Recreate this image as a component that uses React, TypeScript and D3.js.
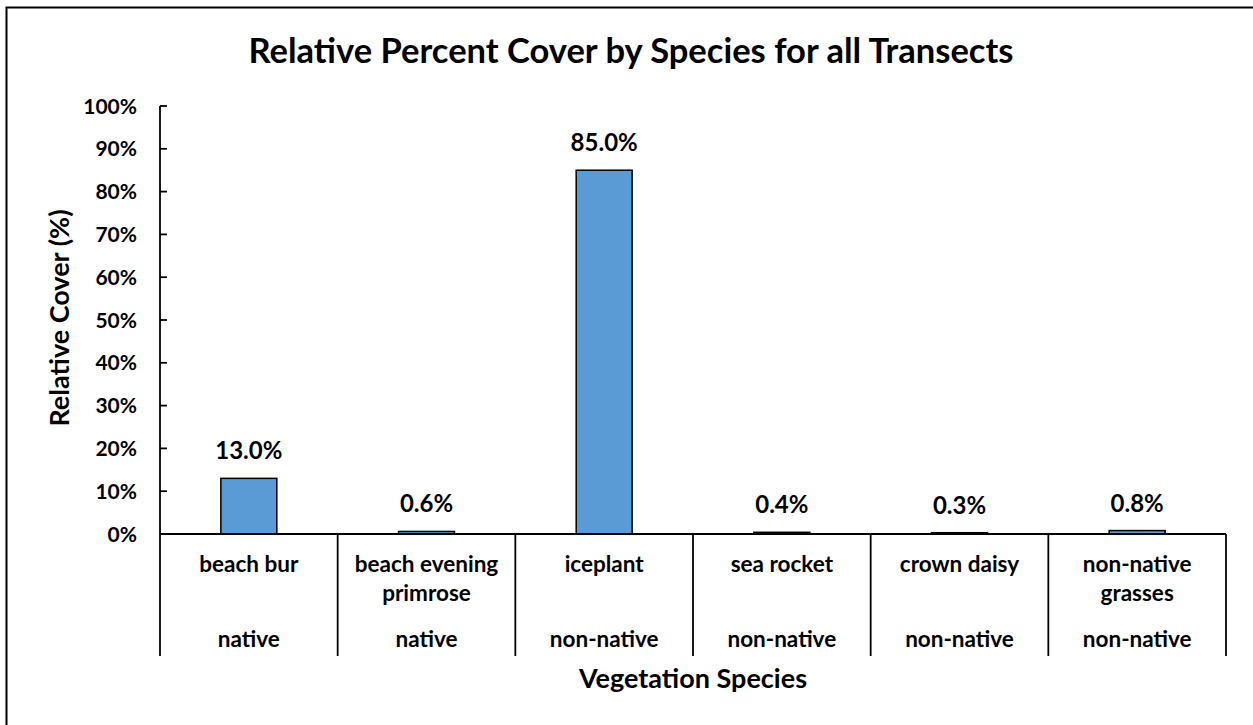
import React from "react";
import * as d3 from "d3";

// Species shown on the category axis (one entry per line of the label)
const speciesLines: string[][] = [
  ["beach bur"],
  ["beach evening", "primrose"],
  ["iceplant"],
  ["sea rocket"],
  ["crown daisy"],
  ["non-native", "grasses"],
];
// Second-level grouping under each species
const origin: string[] = ["native", "native", "non-native", "non-native", "non-native", "non-native"];
// Relative percent cover for each species
const cover: number[] = [13.0, 0.6, 85.0, 0.4, 0.3, 0.8];
// Value axis ticks
const yTicks: number[] = [0, 10, 20, 30, 40, 50, 60, 70, 80, 90, 100];

const W = 1253;
const H = 725;
const FONT = "Lato, 'Noto Sans', sans-serif";

export default function App() {
  const keys = speciesLines.map((l) => l.join(" "));
  const x = d3.scaleBand<string>().domain(keys).range([160, 1226]).padding(0);
  const y = d3.scaleLinear().domain([0, 100]).range([534, 106]);
  const barW = x.bandwidth() * 0.315;
  const axisBottom = 656;

  return (
    <svg
      width={W}
      height={H}
      style={{ position: "absolute", left: 0, top: 0, background: "#fff" }}
      fontFamily={FONT}
      fontWeight={700}
    >
      <rect x={0} y={0} width={W} height={H} fill="#fff" />
      {/* chart frame */}
      <rect x={6.5} y={7.5} width={W + 50} height={H + 50} fill="none" stroke="#000" strokeWidth={2} />

      <text x={631} y={63} textAnchor="middle" fontSize={34.5} fill="#000">
        Relative Percent Cover by Species for all Transects
      </text>

      {/* bars */}
      {keys.map((k, i) => {
        const cx = (x(k) as number) + x.bandwidth() / 2;
        return (
          <rect
            key={k}
            x={cx - barW / 2}
            y={y(cover[i])}
            width={barW}
            height={y(0) - y(cover[i])}
            fill="#5B9BD5"
            stroke="#000"
            strokeWidth={1.5}
          />
        );
      })}

      {/* value axis */}
      <line x1={160} x2={160} y1={y(100)} y2={axisBottom} stroke="#000" strokeWidth={1.8} />
      {yTicks.map((t) => (
        <g key={t}>
          <line x1={160} x2={167} y1={y(t)} y2={y(t)} stroke="#000" strokeWidth={1.8} />
          <text x={137} y={y(t)} dy={7.5} textAnchor="end" fontSize={21} fill="#000">
            {t}%
          </text>
        </g>
      ))}

      {/* category axis */}
      <line x1={160} x2={1226} y1={y(0)} y2={y(0)} stroke="#000" strokeWidth={1.8} />
      {keys.map((k, i) => {
        const x0 = x(k) as number;
        const cx = x0 + x.bandwidth() / 2;
        return (
          <g key={k}>
            <line x1={x0 + x.bandwidth()} x2={x0 + x.bandwidth()} y1={y(0)} y2={axisBottom} stroke="#000" strokeWidth={1.8} />
            {speciesLines[i].map((line, j) => (
              <text key={j} x={cx} y={572 + j * 29} textAnchor="middle" fontSize={22.5} fill="#000">
                {line}
              </text>
            ))}
            <text x={cx} y={647} textAnchor="middle" fontSize={22.5} fill="#000">
              {origin[i]}
            </text>
            <text x={cx} y={y(cover[i]) - 19} textAnchor="middle" fontSize={24} fill="#000">
              {cover[i].toFixed(1)}%
            </text>
          </g>
        );
      })}

      <text x={693} y={688} textAnchor="middle" fontSize={27} fill="#000">
        Vegetation Species
      </text>
      <text transform="translate(69,318) rotate(-90)" textAnchor="middle" fontSize={27} fill="#000">
        Relative Cover (%)
      </text>
    </svg>
  );
}
